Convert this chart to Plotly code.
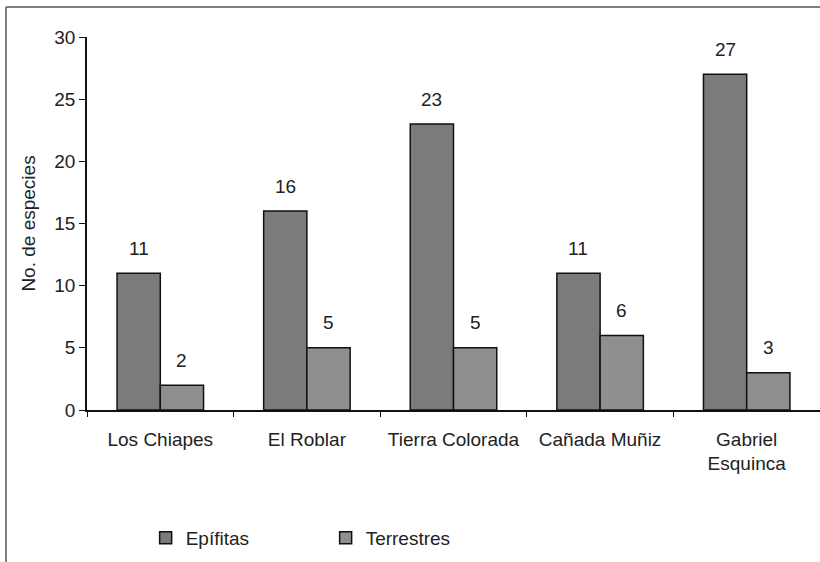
import plotly.graph_objects as go

categories = ["Los Chiapes", "El Roblar", "Tierra Colorada", "Cañada Muñiz", "Gabriel<br>Esquinca"]
epifitas = [11, 16, 23, 11, 27]
terrestres = [2, 5, 5, 6, 3]
y_ticks = [0, 5, 10, 15, 20, 25, 30]

FONT = "Liberation Sans, Arial, sans-serif"
FS = 19
W, H = 820, 562
ML, MR, MT, MB = 87, 0, 37, 152
PW = W - ML - MR
PH = H - MT - MB
BARGAP = 0.41

fig = go.Figure()
fig.add_trace(go.Bar(
    name="Epífitas", x=categories, y=epifitas,
    marker=dict(color="#7b7b7b", line=dict(color="#111111", width=1.5)),
    cliponaxis=False,
))
fig.add_trace(go.Bar(
    name="Terrestres", x=categories, y=terrestres,
    marker=dict(color="#8f8f8f", line=dict(color="#111111", width=1.5)),
    cliponaxis=False,
))

# value labels above bars
half_bar = PW / len(categories) * (1 - BARGAP) / 4
for series, sign in ((epifitas, -1), (terrestres, 1)):
    for c, v in zip(categories, series):
        fig.add_annotation(x=c, y=v, text=str(v), showarrow=False,
                           xshift=sign * half_bar, yshift=25, yanchor="middle",
                           font=dict(size=FS, color="#222222", family=FONT))

fig.update_layout(
    width=W, height=H,
    margin=dict(l=ML, r=MR, t=MT, b=MB),
    paper_bgcolor="white", plot_bgcolor="white",
    barmode="group", bargap=BARGAP, bargroupgap=0,
    font=dict(family=FONT, size=FS, color="#222222"),
    showlegend=True,
    legend=dict(orientation="h", x=0.08, xanchor="left", y=-128 / PH, yanchor="middle",
                font=dict(size=FS, color="#222222"), entrywidth=135,
                itemwidth=30, bgcolor="rgba(0,0,0,0)"),
)
fig.update_xaxes(
    showline=True, linecolor="#111111", linewidth=1.5,
    ticks="outside", tickson="boundaries", ticklen=5, tickcolor="#111111",
    tickfont=dict(size=FS, color="#222222"), showgrid=False, ticklabelstandoff=11,
)
fig.update_yaxes(
    range=[0, 30], tickvals=y_ticks, showline=True, linecolor="#111111", linewidth=1.5,
    ticks="outside", ticklen=6, tickcolor="#111111", showgrid=False, zeroline=False,
    tickfont=dict(size=FS, color="#222222"),
    title=dict(text="No. de especies", font=dict(size=FS, color="#222222"), standoff=14),
)
# chart frame (left and top edges visible in the reference)
fx = -(ML - 6) / PW
fy = 1 + (MT - 7) / PH
fig.add_shape(type="line", xref="paper", yref="paper", x0=fx, x1=fx, y0=fy, y1=-MB / PH - 0.01,
              line=dict(color="#555555", width=1.5))
fig.add_shape(type="line", xref="paper", yref="paper", x0=fx, x1=1.01, y0=fy, y1=fy,
              line=dict(color="#555555", width=1.5))

fig.write_html("out.html", config={"displayModeBar": False},
               post_script="document.body.style.margin='0';document.body.style.overflow='hidden';")
